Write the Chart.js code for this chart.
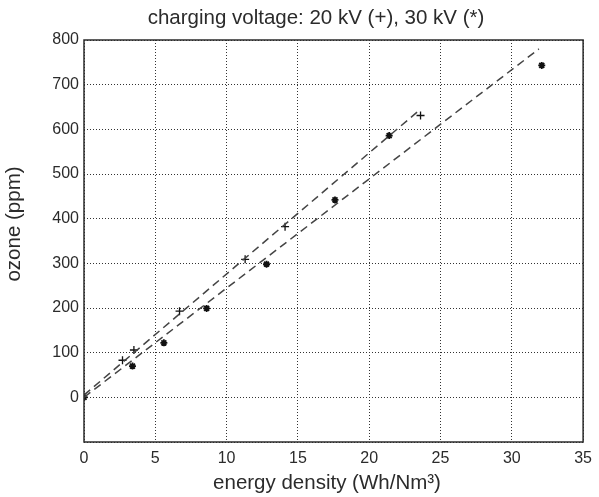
<!DOCTYPE html>
<html>
<head>
<meta charset="utf-8">
<script src="https://cdn.jsdelivr.net/npm/chart.js@4"></script>
<style>
  html, body { margin: 0; padding: 0; background: #fff; }
  #chart { display: block; }
</style>
</head>
<body>
<canvas id="chart" width="599" height="497"></canvas>
<script>
// measured points, 20 kV (+)
const plusX = [0, 2.7, 3.5, 6.7, 11.3, 14.1, 23.6];
const plusY = [0, 83, 106, 193, 309, 382, 631];
// measured points, 30 kV (*)
const starX = [0, 3.4, 5.6, 8.6, 12.8, 17.6, 21.4, 32.1];
const starY = [0, 70, 122, 199, 298, 442, 586, 743];
// dashed fit lines (end points)
const plusFitX = [0, 23.6];
const plusFitY = [5, 645];
const starFitX = [0, 31.9];
const starFitY = [0, 780];

const xTicks = [0, 5, 10, 15, 20, 25, 30, 35];
const yTicks = [0, 100, 200, 300, 400, 500, 600, 700, 800];

const titleText = 'charging voltage: 20 kV (+), 30 kV (*)';
const xTitle = 'energy density (Wh/Nm³)';
const yTitle = 'ozone (ppm)';

function toPoints(xs, ys) {
    return xs.map((x, i) => ({ x: x, y: ys[i] }));
}

const ink = '#2b2b2b';
const fontFamily = '"Liberation Sans", Arial, sans-serif';

// box around the plot area plus the title texts
const frame = {
    id: 'frame',
    afterDraw(chart) {
        const a = chart.chartArea;
        const ctx = chart.ctx;
        ctx.save();
        ctx.strokeStyle = ink;
        ctx.lineWidth = 1.5;
        ctx.strokeRect(a.left, a.top, a.right - a.left, a.bottom - a.top);

        ctx.fillStyle = ink;
        ctx.textAlign = 'center';
        ctx.textBaseline = 'middle';
        ctx.font = '20.5px ' + fontFamily;
        ctx.fillText(titleText, 316, 18);
        ctx.font = '20.5px ' + fontFamily;
        ctx.fillText(xTitle, 327, 483);
        ctx.translate(14, 224);
        ctx.rotate(-Math.PI / 2);
        ctx.fillText(yTitle, 0, 0);
        ctx.restore();
    }
};

const ctx = document.getElementById('chart').getContext('2d');
new Chart(ctx, {
    type: 'scatter',
    data: {
        datasets: [
            {
                label: '20 kV fit',
                data: toPoints(plusFitX, plusFitY),
                showLine: true,
                borderColor: '#444',
                borderWidth: 1.5,
                borderDash: [8, 5],
                pointRadius: 0
            },
            {
                label: '30 kV fit',
                data: toPoints(starFitX, starFitY),
                showLine: true,
                borderColor: '#444',
                borderWidth: 1.5,
                borderDash: [8, 5],
                pointRadius: 0
            },
            {
                label: '20 kV (+)',
                data: toPoints(plusX, plusY),
                pointStyle: 'cross',
                pointRadius: 4,
                borderColor: '#111',
                borderWidth: 1.3
            },
            {
                label: '30 kV (*)',
                data: toPoints(starX, starY),
                pointStyle: 'star',
                pointRadius: 3.5,
                borderColor: '#111',
                backgroundColor: '#111',
                borderWidth: 1.8
            }
        ]
    },
    options: {
        responsive: false,
        animation: false,
        layout: { padding: { left: 0, right: 11, top: 40, bottom: 0 } },
        plugins: {
            legend: { display: false },
            tooltip: { enabled: false },
            title: { display: false }
        },
        scales: {
            x: {
                type: 'linear',
                min: 0,
                max: 35,
                afterBuildTicks(scale) {
                    scale.ticks = xTicks.map(v => ({ value: v }));
                },
                afterFit(scale) { scale.height = 55; },
                grid: {
                    color: '#333',
                    lineWidth: 1,
                    drawTicks: false
                },
                border: { display: false, dash: [1, 2] },
                ticks: {
                    color: ink,
                    padding: 7,
                    maxRotation: 0,
                    font: { family: fontFamily, size: 16 }
                }
            },
            y: {
                type: 'linear',
                min: -100,
                max: 800,
                afterBuildTicks(scale) {
                    scale.ticks = [-100].concat(yTicks).map(v => ({ value: v }));
                },
                afterFit(scale) { scale.width = 84; },
                grid: {
                    color: '#333',
                    lineWidth: 1,
                    drawTicks: false
                },
                border: { display: false, dash: [1, 2] },
                ticks: {
                    color: ink,
                    padding: 5,
                    font: { family: fontFamily, size: 16 },
                    callback: v => (v < 0 ? '' : v)
                }
            }
        }
    },
    plugins: [frame]
});
</script>
</body>
</html>
